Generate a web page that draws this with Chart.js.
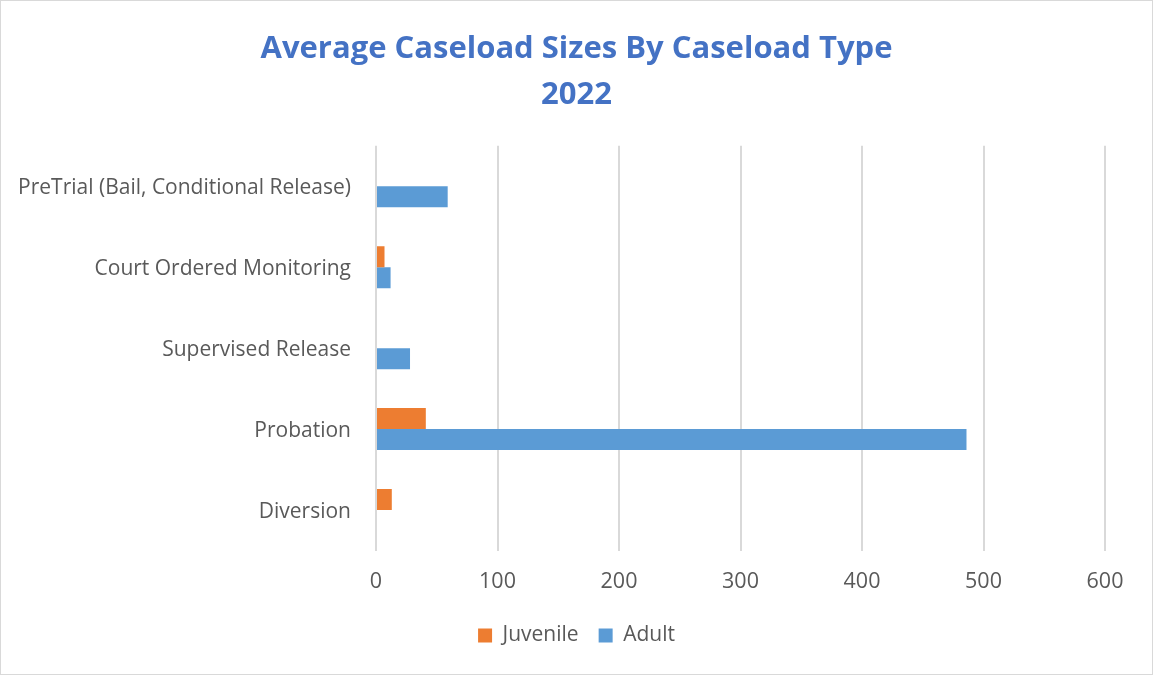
<!DOCTYPE html>
<html>
<head>
<meta charset="utf-8">
<script src="https://cdn.jsdelivr.net/npm/chart.js@4/dist/chart.umd.min.js"></script>
<style>
  body { margin: 0; background: #fff; }
  #wrap { width: 1151px; height: 673px; border: 1px solid #d9d9d9; }
</style>
</head>
<body>
<div id="wrap"><canvas id="caseloadChart" width="1151" height="673"></canvas></div>
<script>
const categories = [
  'PreTrial (Bail, Conditional Release)',
  'Court Ordered Monitoring',
  'Supervised Release',
  'Probation',
  'Diversion'
];
const juvenile = [0, 7, 0, 41, 13];
const adult = [59, 12, 28, 486, 0];
const xTicks = [0, 100, 200, 300, 400, 500, 600];

const font = "'Open Sans', Calibri, sans-serif";
const grey = '#595959';

const data = {
  labels: categories,
  datasets: [
    {
      label: 'Juvenile',
      data: juvenile,
      backgroundColor: '#ED7D31'
    },
    {
      label: 'Adult',
      data: adult,
      backgroundColor: '#5B9BD5'
    }
  ]
};

const config = {
  type: 'bar',
  data: data,
  options: {
    indexAxis: 'y',
    responsive: false,
    animation: false,
    categoryPercentage: 0.52,
    barPercentage: 1,
    layout: {
      padding: { top: 0, left: 0, right: 0, bottom: 18 }
    },
    plugins: {
      title: {
        display: true,
        text: ['Average Caseload Sizes By Caseload Type', '2022'],
        color: '#4472C4',
        font: { family: font, size: 31, weight: 'bold', lineHeight: 1.48 },
        padding: { top: 25, bottom: 28 }
      },
      legend: {
        position: 'bottom',
        labels: {
          color: grey,
          font: { family: font, size: 21 },
          boxWidth: 14,
          boxHeight: 14,
          padding: 20
        }
      },
      tooltip: { enabled: false }
    },
    scales: {
      x: {
        min: 0,
        max: 600,
        afterBuildTicks: (scale) => {
          scale.ticks = xTicks.map(v => ({ value: v }));
        },
        afterFit: (scale) => { scale.height = 54.5; },
        grid: { color: '#d9d9d9', lineWidth: 2, drawTicks: false },
        border: { display: false },
        ticks: { color: grey, font: { family: font, size: 21.5 }, padding: 18 }
      },
      y: {
        grid: { display: false },
        border: { display: false },
        afterFit: (scale) => { scale.width = 375; },
        ticks: { color: grey, font: { family: font, size: 21 }, padding: 17, labelOffset: 2 }
      },
      // empty right-hand axis, only reserves the margin beside the plot
      yRight: {
        type: 'category',
        position: 'right',
        grid: { display: false },
        border: { display: false },
        ticks: { display: false },
        afterFit: (scale) => { scale.width = 47; }
      }
    }
  }
};

const caseloadChart = new Chart(document.getElementById('caseloadChart'), config);
</script>
</body>
</html>
